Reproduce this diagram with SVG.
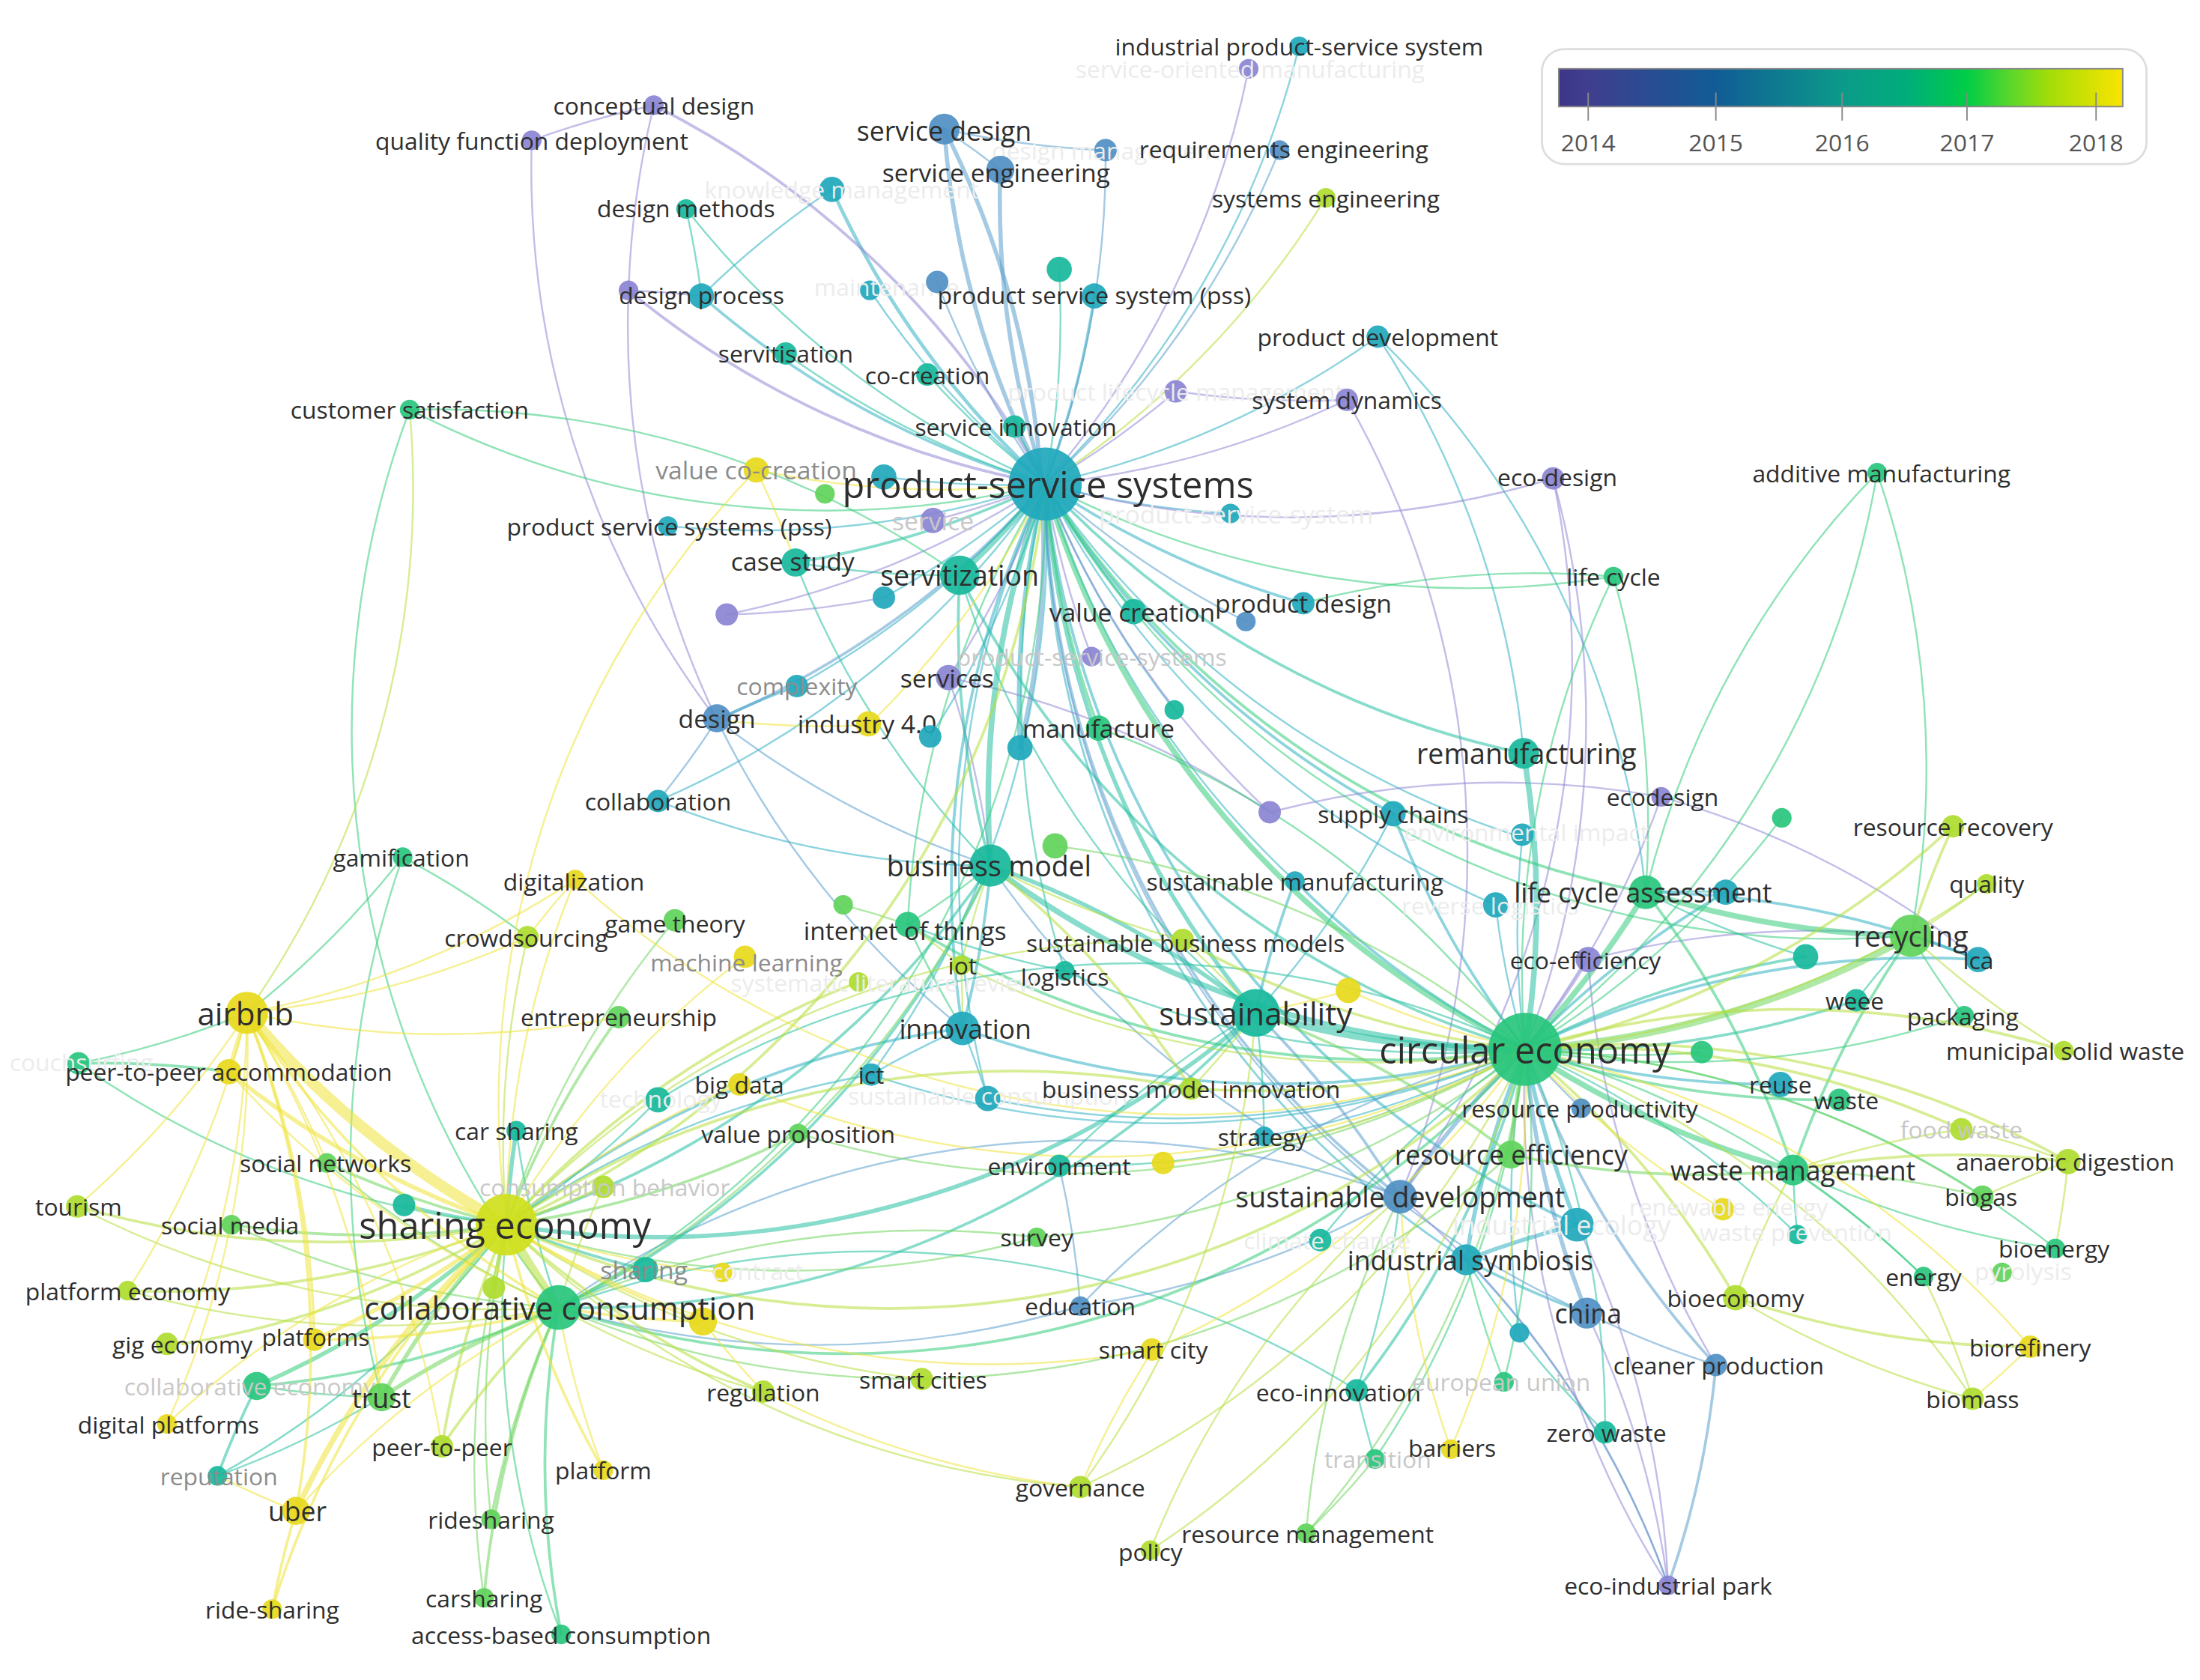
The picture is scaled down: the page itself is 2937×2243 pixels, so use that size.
<svg xmlns="http://www.w3.org/2000/svg" width="2937" height="2243" viewBox="0 0 2937 2243">
<style>
.E{fill:none;stroke-width:1.3;stroke-opacity:.55;stroke-linecap:round}
.E .pu{stroke:#8f89d6}.E .bl{stroke:#5b9fcc}.E .te{stroke:#2fb0c2}.E .tg{stroke:#25bfa0}.E .gr{stroke:#35cc7c}.E .lg{stroke:#6fd65c}.E .li{stroke:#b6df3c}.E .ye{stroke:#eee33a}
.N circle{fill-opacity:.92}
.N .pu{fill:#8a84d2}.N .bl{fill:#4f8fc3}.N .te{fill:#1fa8bc}.N .tg{fill:#17b99c}.N .gr{fill:#27c67c}.N .lg{fill:#5fd25a}.N .li{fill:#aedc2e}.N .ye{fill:#e7d91b}.N .ly{fill:#cfe01c}
text{font-family:"Open Sans","Noto Sans","Liberation Sans",sans-serif;font-size:17px;fill:#2e2e2e;text-anchor:middle;dominant-baseline:central}
.g{fill:#8c8c8c}.f{fill:#c8c8c8}.vf{fill:#ececec}
.s16{font-size:18px}.s17{font-size:19px}.s18{font-size:20px}.s20{font-size:22.5px}.s23{font-size:26px}
#legend text{fill:#555;font-size:17px}
</style>
<defs>
<linearGradient id="yr" x1="0" x2="1" y1="0" y2="0">
<stop offset="0" stop-color="#3d3589"/><stop offset="0.052" stop-color="#403e8e"/><stop offset="0.278" stop-color="#115c96"/><stop offset="0.502" stop-color="#0b9a8a"/><stop offset="0.62" stop-color="#00ae7a"/><stop offset="0.724" stop-color="#00cd46"/><stop offset="0.8" stop-color="#5ad62c"/><stop offset="0.87" stop-color="#a3dd08"/><stop offset="1" stop-color="#fbe400"/>
</linearGradient>
</defs>
<rect width="2937" height="2243" fill="#fff"/>
<g transform="scale(1.873)">
<g id="connectors" class="E">
<g class="te">
<path d="M745 345A650 650 0 0 0 926 33"/><path d="M745 345A650 650 0 0 1 593 135" stroke-width="2.5"/><path d="M745 345A650 650 0 0 1 500 211" stroke-width="2"/><path d="M745 345A650 650 0 0 1 620 207"/><path d="M745 345A650 650 0 0 0 780 211" stroke-width="2"/><path d="M745 345A650 650 0 0 0 982 240"/><path d="M745 345A650 650 0 0 1 630 340"/><path d="M745 345A650 650 0 0 1 476 375"/><path d="M745 345A650 650 0 0 0 877 366"/><path d="M745 345A650 650 0 0 1 630 426"/><path d="M745 345A650 650 0 0 0 929 430" stroke-width="2"/><path d="M745 345A650 650 0 0 1 568 489"/><path d="M745 345A650 650 0 0 1 663 525"/><path d="M745 345A650 650 0 0 0 727 533" stroke-width="3"/><path d="M745 345A650 650 0 0 0 837 506"/><path d="M745 345A650 650 0 0 1 469 571"/><path d="M745 345A650 650 0 0 0 993 580" stroke-width="2"/><path d="M745 345A650 650 0 0 0 686 733" stroke-width="2"/><path d="M745 345A650 650 0 0 0 923 628"/><path d="M745 345A650 650 0 0 0 1066 645"/><path d="M745 345A650 650 0 0 0 1085 597"/><path d="M745 345A650 650 0 0 0 1124 873" stroke-width="2"/><path d="M745 345A650 650 0 0 0 1045 898" stroke-width="1.5"/><path d="M745 345A650 650 0 0 1 621 766"/><path d="M745 345A650 650 0 0 0 704 783"/><path d="M593 135A650 650 0 0 0 500 211"/><path d="M982 240A650 650 0 0 1 1086 537"/><path d="M982 240A650 650 0 0 1 1173 636"/><path d="M469 571A650 650 0 0 0 706 617"/><path d="M1087 748A650 650 0 0 0 1269 773" stroke-width="2"/><path d="M1087 748A650 650 0 0 0 1045 898" stroke-width="3"/><path d="M1087 748A650 650 0 0 0 1124 873" stroke-width="3"/><path d="M1087 748A650 650 0 0 1 993 580" stroke-width="2"/><path d="M1087 748A650 650 0 0 1 923 628" stroke-width="2"/><path d="M1087 748A650 650 0 0 1 1410 684" stroke-width="2"/><path d="M1087 748A650 650 0 0 1 901 810"/><path d="M1087 748A650 650 0 0 1 686 733" stroke-width="2"/><path d="M1087 748A650 650 0 0 1 621 766"/><path d="M1087 748A650 650 0 0 1 1230 636" stroke-width="2"/><path d="M1087 748A650 650 0 0 1 1066 645"/><path d="M1087 748A650 650 0 0 1 1085 597"/><path d="M1087 748A650 650 0 0 1 704 783"/><path d="M1087 748A650 650 0 0 0 1083 950"/><path d="M361 873A650 650 0 0 1 686 733" stroke-width="2"/><path d="M361 873A650 650 0 0 1 621 766"/><path d="M1362 667A650 650 0 0 1 1410 684" stroke-width="2"/><path d="M1173 636A650 650 0 0 1 1410 684" stroke-width="2"/><path d="M1173 636A650 650 0 0 1 1230 636"/><path d="M1131 936A650 650 0 0 1 1045 898" stroke-width="2"/><path d="M1124 873A650 650 0 0 0 1045 898" stroke-width="3"/><path d="M511 513A650 650 0 0 1 568 489" stroke-width="2"/><path d="M686 733A650 650 0 0 0 621 766"/><path d="M686 733A650 650 0 0 1 704 783"/><path d="M706 617A650 650 0 0 1 686 733" stroke-width="2"/><path d="M895 722A650 650 0 0 1 923 628" stroke-width="2"/><path d="M895 722A650 650 0 0 0 993 580"/><path d="M1045 898A650 650 0 0 1 1189 1130"/>
</g>
<g class="bl">
<path d="M745 345A650 650 0 0 1 673 92" stroke-width="3"/><path d="M745 345A650 650 0 0 0 788 107"/><path d="M745 345A650 650 0 0 1 713 121" stroke-width="3"/><path d="M745 345A650 650 0 0 0 912 107"/><path d="M745 345A650 650 0 0 1 668 201"/><path d="M745 345A650 650 0 0 0 888 443"/><path d="M745 345A650 650 0 0 1 511 513" stroke-width="2"/><path d="M745 345A650 650 0 0 0 998 853" stroke-width="2"/><path d="M745 345A650 650 0 0 0 1131 936"/><path d="M673 92A650 650 0 0 0 788 107"/><path d="M673 92A650 650 0 0 1 727 533" stroke-width="3"/><path d="M713 121A650 650 0 0 0 673 92"/><path d="M1087 748A650 650 0 0 0 1127 790"/><path d="M1087 748A650 650 0 0 0 998 853" stroke-width="3"/><path d="M1087 748A650 650 0 0 0 1131 936" stroke-width="3"/><path d="M1087 748A650 650 0 0 0 1223 973" stroke-width="2"/><path d="M1087 748A650 650 0 0 0 770 931"/><path d="M1131 936A650 650 0 0 0 1223 973"/><path d="M1223 973A650 650 0 0 1 1189 1130" stroke-width="2"/><path d="M511 513A650 650 0 0 1 469 571"/><path d="M511 513A650 650 0 0 0 706 617"/><path d="M511 513A650 650 0 0 0 686 733"/><path d="M398 932A650 650 0 0 0 770 931"/><path d="M755 831A650 650 0 0 1 770 931"/><path d="M770 931A650 650 0 0 0 998 853"/><path d="M895 722A650 650 0 0 1 998 853" stroke-width="2"/><path d="M706 617A650 650 0 0 0 998 853"/><path d="M398 932A650 650 0 0 1 998 853"/>
</g>
<g class="pu">
<path d="M745 345A650 650 0 0 0 890 49"/><path d="M745 345A650 650 0 0 1 448 207" stroke-width="2"/><path d="M745 345A650 650 0 0 0 838 279"/><path d="M745 345A650 650 0 0 0 960 285"/><path d="M745 345A650 650 0 0 0 1107 341"/><path d="M745 345A650 650 0 0 1 665 371"/><path d="M745 345A650 650 0 0 1 518 438"/><path d="M745 345A650 650 0 0 0 778 468"/><path d="M745 345A650 650 0 0 1 676 483"/><path d="M745 345A650 650 0 0 0 905 579"/><path d="M379 100A650 650 0 0 1 466 75"/><path d="M379 100A650 650 0 0 0 511 513"/><path d="M466 75A650 650 0 0 1 745 345" stroke-width="2"/><path d="M466 75A650 650 0 0 0 448 207"/><path d="M448 207A650 650 0 0 1 500 211"/><path d="M448 207A650 650 0 0 0 511 513"/><path d="M960 285A650 650 0 0 1 838 279"/><path d="M960 285A650 650 0 0 1 998 853"/><path d="M1107 341A650 650 0 0 1 1087 748"/><path d="M1107 341A650 650 0 0 1 998 853"/><path d="M1184 568A650 650 0 0 0 905 579"/><path d="M1184 568A650 650 0 0 1 1087 748"/><path d="M905 579A650 650 0 0 0 676 483"/><path d="M676 483A650 650 0 0 1 706 617"/><path d="M518 438A650 650 0 0 0 630 426"/><path d="M1087 748A650 650 0 0 0 1132 684" stroke-width="2"/><path d="M1087 748A650 650 0 0 0 1189 1130"/><path d="M1131 936A650 650 0 0 1 1189 1130"/><path d="M1124 873A650 650 0 0 1 1189 1130"/><path d="M998 853A650 650 0 0 1 1189 1130"/><path d="M1132 684A650 650 0 0 1 1362 667"/><path d="M1184 568A650 650 0 0 1 1410 684"/><path d="M1132 684A650 650 0 0 0 1223 973"/>
</g>
<g class="tg">
<path d="M745 345A650 650 0 0 1 489 149"/><path d="M745 345A650 650 0 0 0 755 192"/><path d="M745 345A650 650 0 0 1 560 252"/><path d="M745 345A650 650 0 0 1 661 267"/><path d="M745 345A650 650 0 0 0 723 304"/><path d="M745 345A650 650 0 0 1 567 401" stroke-width="2"/><path d="M745 345A650 650 0 0 1 684 410" stroke-width="4"/><path d="M745 345A650 650 0 0 0 808 436" stroke-width="2"/><path d="M745 345A650 650 0 0 0 1086 537" stroke-width="2"/><path d="M745 345A650 650 0 0 0 706 617" stroke-width="4"/><path d="M745 345A650 650 0 0 0 895 722" stroke-width="3"/><path d="M745 345A650 650 0 0 0 759 692"/><path d="M489 149A650 650 0 0 1 500 211"/><path d="M684 410A650 650 0 0 0 706 617" stroke-width="2"/><path d="M684 410A650 650 0 0 1 567 401"/><path d="M684 410A650 650 0 0 0 1087 748" stroke-width="2"/><path d="M684 410A650 650 0 0 0 895 722"/><path d="M567 401A650 650 0 0 0 706 617"/><path d="M1087 748A650 650 0 0 0 1086 537" stroke-width="4"/><path d="M1087 748A650 650 0 0 0 1323 713" stroke-width="2"/><path d="M1087 748A650 650 0 0 1 1144 1021"/><path d="M1087 748A650 650 0 0 1 967 991" stroke-width="2"/><path d="M1087 748A650 650 0 0 1 895 722" stroke-width="5"/><path d="M1087 748A650 650 0 0 1 706 617" stroke-width="4"/><path d="M1087 748A650 650 0 0 1 1281 880"/><path d="M1087 748A650 650 0 0 0 941 884"/><path d="M1087 748A650 650 0 0 1 755 831"/><path d="M1087 748A650 650 0 0 1 1287 682" stroke-width="2"/><path d="M1087 748A650 650 0 0 1 759 692"/><path d="M1087 748A650 650 0 0 0 469 784"/><path d="M361 873A650 650 0 0 1 368 806" stroke-width="3"/><path d="M361 873A650 650 0 0 0 460 905" stroke-width="2"/><path d="M361 873A650 650 0 0 1 155 1052"/><path d="M361 873A650 650 0 0 0 706 617" stroke-width="2"/><path d="M361 873A650 650 0 0 0 895 722" stroke-width="3"/><path d="M361 873A650 650 0 0 0 469 784"/><path d="M361 873A650 650 0 0 1 288 859" stroke-width="2"/><path d="M398 932A650 650 0 0 1 460 905"/><path d="M398 932A650 650 0 0 0 706 617" stroke-width="2"/><path d="M398 932A650 650 0 0 0 895 722" stroke-width="2"/><path d="M398 932A650 650 0 0 1 967 991"/><path d="M398 932A650 650 0 0 1 368 806"/><path d="M155 1052A650 650 0 0 1 183 988" stroke-width="2"/><path d="M155 1052A650 650 0 0 0 272 996"/><path d="M706 617A650 650 0 0 1 895 722" stroke-width="3"/><path d="M895 722A650 650 0 0 0 755 831"/><path d="M895 722A650 650 0 0 1 901 810"/><path d="M998 853A650 650 0 0 1 967 991"/><path d="M1045 898A650 650 0 0 0 1144 1021"/><path d="M980 1040A650 650 0 0 1 967 991"/><path d="M647 659A650 650 0 0 0 759 692"/><path d="M1362 667A650 650 0 0 0 1323 713"/><path d="M1173 636A650 650 0 0 0 1287 682"/><path d="M1278 834A650 650 0 0 0 1281 880"/>
</g>
<g class="gr">
<path d="M745 345A650 650 0 0 1 292 292"/><path d="M745 345A650 650 0 0 0 1150 411"/><path d="M745 345A650 650 0 0 0 783 519" stroke-width="2"/><path d="M745 345A650 650 0 0 0 1087 748" stroke-width="4"/><path d="M745 345A650 650 0 0 0 1173 636" stroke-width="2"/><path d="M745 345A650 650 0 0 1 398 932"/><path d="M745 345A650 650 0 0 0 1362 667"/><path d="M745 345A650 650 0 0 0 647 659"/><path d="M292 292A650 650 0 0 1 684 410"/><path d="M292 292A650 650 0 0 0 398 932"/><path d="M1087 748A650 650 0 0 0 1173 636" stroke-width="4"/><path d="M1087 748A650 650 0 0 0 1400 724"/><path d="M1087 748A650 650 0 0 0 1311 784" stroke-width="2"/><path d="M1087 748A650 650 0 0 0 1278 834" stroke-width="4"/><path d="M1087 748A650 650 0 0 1 1072 985"/><path d="M1087 748A650 650 0 0 1 980 1040"/><path d="M1087 748A650 650 0 0 1 1150 411"/><path d="M1087 748A650 650 0 0 0 1338 337"/><path d="M1087 748A650 650 0 0 1 1465 890"/><path d="M1087 748A650 650 0 0 1 1371 910"/><path d="M1087 748A650 650 0 0 1 647 659" stroke-width="2"/><path d="M1087 748A650 650 0 0 1 398 932" stroke-width="2"/><path d="M1087 748A650 650 0 0 0 1213 750"/><path d="M1087 748A650 650 0 0 0 1270 583"/><path d="M1338 337A650 650 0 0 0 1173 636"/><path d="M1338 337A650 650 0 0 1 1362 667"/><path d="M1150 411A650 650 0 0 0 929 430"/><path d="M1150 411A650 650 0 0 1 1173 636"/><path d="M1362 667A650 650 0 0 1 1173 636" stroke-width="4"/><path d="M1362 667A650 650 0 0 0 1278 834" stroke-width="2"/><path d="M1362 667A650 650 0 0 0 1400 724"/><path d="M1173 636A650 650 0 0 1 1278 834" stroke-width="2"/><path d="M1278 834A650 650 0 0 0 1465 890"/><path d="M1278 834A650 650 0 0 1 1371 910"/><path d="M1045 898A650 650 0 0 0 1072 985"/><path d="M361 873A650 650 0 0 1 56 758"/><path d="M361 873A650 650 0 0 1 183 988" stroke-width="3"/><path d="M361 873A650 650 0 0 0 400 1165"/><path d="M398 932A650 650 0 0 1 183 988" stroke-width="2"/><path d="M398 932A650 650 0 0 0 400 1165" stroke-width="2"/><path d="M56 758A650 650 0 0 1 163 764" stroke-width="2"/><path d="M56 758A650 650 0 0 0 176 722"/><path d="M183 988A650 650 0 0 0 272 996"/><path d="M287 611A650 650 0 0 0 272 996"/><path d="M287 611A650 650 0 0 1 376 668"/><path d="M176 722A650 650 0 0 0 287 611"/><path d="M706 617A650 650 0 0 1 647 659"/><path d="M686 733A650 650 0 0 1 647 659"/><path d="M783 519A650 650 0 0 1 1087 748"/>
</g>
<g class="lg">
<path d="M1087 748A650 650 0 0 0 1362 667" stroke-width="5"/><path d="M1087 748A650 650 0 0 0 1077 823" stroke-width="3"/><path d="M1087 748A650 650 0 0 1 1413 853"/><path d="M1087 748A650 650 0 0 1 931 1093"/><path d="M1087 748A650 650 0 0 1 739 882"/><path d="M1087 748A650 650 0 0 1 569 808"/><path d="M361 873A650 650 0 0 1 233 829" stroke-width="2"/><path d="M361 873A650 650 0 0 1 165 873" stroke-width="2"/><path d="M361 873A650 650 0 0 0 272 996" stroke-width="3"/><path d="M361 873A650 650 0 0 0 350 1083"/><path d="M361 873A650 650 0 0 0 345 1139"/><path d="M361 873A650 650 0 0 1 441 725" stroke-width="2"/><path d="M361 873A650 650 0 0 1 481 656"/><path d="M361 873A650 650 0 0 0 569 808" stroke-width="2"/><path d="M361 873A650 650 0 0 0 739 882"/><path d="M398 932A650 650 0 0 1 233 829"/><path d="M398 932A650 650 0 0 1 165 873"/><path d="M398 932A650 650 0 0 0 272 996" stroke-width="3"/><path d="M398 932A650 650 0 0 0 350 1083" stroke-width="2"/><path d="M398 932A650 650 0 0 0 345 1139" stroke-width="2"/><path d="M398 932A650 650 0 0 1 739 882"/><path d="M398 932A650 650 0 0 0 569 808"/><path d="M398 932A650 650 0 0 0 1077 823"/><path d="M1278 834A650 650 0 0 1 1413 853"/><path d="M998 853A650 650 0 0 0 931 1093"/><path d="M980 1040A650 650 0 0 1 931 1093"/><path d="M895 722A650 650 0 0 1 1077 823" stroke-width="2"/><path d="M706 617A650 650 0 0 1 569 808"/><path d="M647 659A650 650 0 0 0 601 645"/><path d="M1077 823A650 650 0 0 0 1278 834" stroke-width="2"/><path d="M1087 748A650 650 0 0 0 752 603"/>
</g>
<g class="li">
<path d="M745 345A650 650 0 0 0 945 141"/><path d="M745 345A650 650 0 0 1 361 873" stroke-width="2"/><path d="M1087 748A650 650 0 0 1 1237 925" stroke-width="2"/><path d="M1087 748A650 650 0 0 1 820 1105"/><path d="M1087 748A650 650 0 0 1 849 776" stroke-width="2"/><path d="M1087 748A650 650 0 0 0 1392 589" stroke-width="2"/><path d="M1087 748A650 650 0 0 0 1416 630"/><path d="M1087 748A650 650 0 0 1 1471 749" stroke-width="2"/><path d="M1087 748A650 650 0 0 1 1398 805" stroke-width="2"/><path d="M1087 748A650 650 0 0 1 1474 828" stroke-width="2"/><path d="M1087 748A650 650 0 0 1 1406 997"/><path d="M1087 748A650 650 0 0 1 770 1060"/><path d="M1087 748A650 650 0 0 1 685 688"/><path d="M1087 748A650 650 0 0 1 361 873" stroke-width="2"/><path d="M1087 748A650 650 0 0 1 843 670" stroke-width="2"/><path d="M361 873A650 650 0 0 1 55 860" stroke-width="2"/><path d="M361 873A650 650 0 0 1 91 920" stroke-width="2"/><path d="M361 873A650 650 0 0 1 130 958" stroke-width="2"/><path d="M361 873A650 650 0 0 0 315 1031" stroke-width="2"/><path d="M361 873A650 650 0 0 0 430 846" stroke-width="2"/><path d="M361 873A650 650 0 0 0 398 932" stroke-width="6"/><path d="M361 873A650 650 0 0 0 544 992" stroke-width="2"/><path d="M361 873A650 650 0 0 0 657 983"/><path d="M361 873A650 650 0 0 1 376 668"/><path d="M361 873A650 650 0 0 0 352 918" stroke-width="3"/><path d="M361 873A650 650 0 0 0 770 1060"/><path d="M361 873A650 650 0 0 1 612 700" stroke-width="2"/><path d="M361 873A650 650 0 0 1 849 776" stroke-width="2"/><path d="M361 873A650 650 0 0 1 843 670"/><path d="M398 932A650 650 0 0 1 55 860"/><path d="M398 932A650 650 0 0 1 91 920"/><path d="M398 932A650 650 0 0 0 315 1031" stroke-width="2"/><path d="M398 932A650 650 0 0 0 544 992"/><path d="M398 932A650 650 0 0 1 430 846"/><path d="M1392 589A650 650 0 0 0 1362 667" stroke-width="2"/><path d="M1416 630A650 650 0 0 1 1362 667"/><path d="M1362 667A650 650 0 0 0 1471 749"/><path d="M1278 834A650 650 0 0 1 1474 828" stroke-width="2"/><path d="M1278 834A650 650 0 0 1 1398 805"/><path d="M1278 834A650 650 0 0 0 1237 925"/><path d="M1474 828A650 650 0 0 0 1413 853"/><path d="M1474 828A650 650 0 0 1 1465 890"/><path d="M1474 828A650 650 0 0 0 1398 805"/><path d="M1237 925A650 650 0 0 0 1447 960" stroke-width="2"/><path d="M1237 925A650 650 0 0 0 1406 997"/><path d="M1371 910A650 650 0 0 1 1406 997"/><path d="M820 1105A650 650 0 0 1 998 853"/><path d="M770 1060A650 650 0 0 0 895 722"/><path d="M706 617A650 650 0 0 0 843 670"/><path d="M706 617A650 650 0 0 1 849 776" stroke-width="2"/><path d="M706 617A650 650 0 0 0 685 688"/><path d="M895 722A650 650 0 0 1 849 776"/><path d="M895 722A650 650 0 0 0 843 670"/><path d="M686 733A650 650 0 0 0 685 688"/><path d="M647 659A650 650 0 0 1 685 688"/><path d="M176 722A650 650 0 0 0 292 292"/>
</g>
<g class="ye">
<path d="M745 345A650 650 0 0 1 539 335"/><path d="M745 345A650 650 0 0 1 619 517"/><path d="M539 335A650 650 0 0 0 361 873"/><path d="M539 335A650 650 0 0 1 567 401"/><path d="M1087 748A650 650 0 0 1 1034 1033"/><path d="M1087 748A650 650 0 0 1 1447 960"/><path d="M1087 748A650 650 0 0 0 1228 862"/><path d="M1087 748A650 650 0 0 1 822 962"/><path d="M1087 748A650 650 0 0 1 527 773"/><path d="M1087 748A650 650 0 0 1 961 706"/><path d="M1087 748A650 650 0 0 1 829 829"/><path d="M1087 748A650 650 0 0 1 410 627"/><path d="M361 873A650 650 0 0 1 176 722" stroke-width="8"/><path d="M361 873A650 650 0 0 1 163 764" stroke-width="3"/><path d="M361 873A650 650 0 0 1 224 955" stroke-width="3"/><path d="M361 873A650 650 0 0 0 119 1015"/><path d="M361 873A650 650 0 0 0 430 1048" stroke-width="2"/><path d="M361 873A650 650 0 0 0 211 1077" stroke-width="4"/><path d="M361 873A650 650 0 0 0 194 1147" stroke-width="2"/><path d="M361 873A650 650 0 0 1 410 627"/><path d="M361 873A650 650 0 0 1 527 773"/><path d="M361 873A650 650 0 0 0 501 942" stroke-width="2"/><path d="M361 873A650 650 0 0 0 515 907"/><path d="M361 873A650 650 0 0 0 822 962"/><path d="M361 873A650 650 0 0 1 531 682"/><path d="M398 932A650 650 0 0 1 176 722" stroke-width="2"/><path d="M398 932A650 650 0 0 1 163 764"/><path d="M398 932A650 650 0 0 1 224 955" stroke-width="2"/><path d="M398 932A650 650 0 0 0 430 1048"/><path d="M398 932A650 650 0 0 0 211 1077"/><path d="M398 932A650 650 0 0 0 501 942" stroke-width="2"/><path d="M176 722A650 650 0 0 0 163 764" stroke-width="3"/><path d="M176 722A650 650 0 0 1 55 860"/><path d="M176 722A650 650 0 0 1 233 829"/><path d="M176 722A650 650 0 0 1 91 920"/><path d="M176 722A650 650 0 0 1 224 955" stroke-width="2"/><path d="M176 722A650 650 0 0 1 211 1077" stroke-width="2"/><path d="M176 722A650 650 0 0 1 119 1015"/><path d="M176 722A650 650 0 0 1 130 958"/><path d="M176 722A650 650 0 0 1 272 996"/><path d="M176 722A650 650 0 0 1 315 1031"/><path d="M176 722A650 650 0 0 0 376 668"/><path d="M176 722A650 650 0 0 0 441 725"/><path d="M176 722A650 650 0 0 0 410 627"/><path d="M211 1077A650 650 0 0 0 194 1147" stroke-width="2"/><path d="M211 1077A650 650 0 0 1 155 1052"/><path d="M376 668A650 650 0 0 1 410 627"/><path d="M544 992A650 650 0 0 1 501 942"/><path d="M770 1060A650 650 0 0 1 822 962"/><path d="M770 1060A650 650 0 0 1 544 992"/><path d="M1447 960A650 650 0 0 1 1406 997"/><path d="M511 513A650 650 0 0 0 619 517"/><path d="M895 722A650 650 0 0 0 961 706"/><path d="M998 853A650 650 0 0 0 1034 1033"/>
</g>
</g>
<g id="nodes" class="N">
<g id="n-ipss"><circle class="te" cx="926" cy="33" r="7"/><text x="926" y="33">industrial product-service system</text></g>
<g id="n-som"><circle class="pu" cx="890" cy="49" r="7"/><text x="891" y="49" class="vf">service-oriented manufacturing</text></g>
<g id="n-conceptual-design"><circle class="pu" cx="466" cy="75" r="7"/><text x="466" y="75">conceptual design</text></g>
<g id="n-qfd"><circle class="pu" cx="379" cy="100" r="7"/><text x="379" y="100">quality function deployment</text></g>
<g id="n-design-management"><circle class="bl" cx="788" cy="107" r="8"/><text x="788" y="107" class="vf">design management</text></g>
<g id="n-service-design"><circle class="bl" cx="673" cy="92" r="11"/><text x="673" y="93" class="s17">service design</text></g>
<g id="n-service-engineering"><circle class="bl" cx="713" cy="121" r="10"/><text x="710" y="123" class="s16">service engineering</text></g>
<g id="n-requirements-engineering"><circle class="bl" cx="912" cy="107" r="7"/><text x="915" y="106">requirements engineering</text></g>
<g id="n-systems-engineering"><circle class="li" cx="945" cy="141" r="7"/><text x="945" y="141">systems engineering</text></g>
<g id="n-knowledge-management"><circle class="te" cx="593" cy="135" r="9"/><text x="600" y="135" class="vf">knowledge management</text></g>
<g id="n-design-methods"><circle class="tg" cx="489" cy="149" r="7"/><text x="489" y="148">design methods</text></g>
<g id="n-p1"><circle class="pu" cx="448" cy="207" r="7"/></g>
<g id="n-maintenance"><circle class="te" cx="620" cy="207" r="7"/><text x="632" y="204" class="vf">maintenance</text></g>
<g id="n-g1"><circle class="tg" cx="755" cy="192" r="9"/></g>
<g id="n-b1"><circle class="bl" cx="668" cy="201" r="8"/></g>
<g id="n-design-process"><circle class="te" cx="500" cy="211" r="9"/><text x="500" y="210">design process</text></g>
<g id="n-pss-system"><circle class="te" cx="780" cy="211" r="9"/><text x="780" y="210">product service system (pss)</text></g>
<g id="n-servitisation"><circle class="tg" cx="560" cy="252" r="8"/><text x="560" y="252">servitisation</text></g>
<g id="n-co-creation"><circle class="tg" cx="661" cy="267" r="8"/><text x="661" y="267">co-creation</text></g>
<g id="n-product-development"><circle class="te" cx="982" cy="240" r="8"/><text x="982" y="240">product development</text></g>
<g id="n-plm"><circle class="pu" cx="838" cy="279" r="8"/><text x="838" y="279" class="vf">product lifecycle management</text></g>
<g id="n-system-dynamics"><circle class="pu" cx="960" cy="285" r="8"/><text x="960" y="285">system dynamics</text></g>
<g id="n-customer-satisfaction"><circle class="gr" cx="292" cy="292" r="7"/><text x="292" y="292">customer satisfaction</text></g>
<g id="n-service-innovation"><circle class="tg" cx="723" cy="304" r="8"/><text x="724" y="304">service innovation</text></g>
<g id="n-value-co-creation"><circle class="ye" cx="539" cy="335" r="9"/><text x="539" y="335" class="g s16">value co-creation</text></g>
<g id="n-g2"><circle class="lg" cx="588" cy="352" r="7"/></g>
<g id="n-t1"><circle class="te" cx="630" cy="340" r="9"/></g>
<g id="n-eco-design"><circle class="pu" cx="1107" cy="341" r="8"/><text x="1110" y="340">eco-design</text></g>
<g id="n-additive-manufacturing"><circle class="gr" cx="1338" cy="337" r="7"/><text x="1341" y="337">additive manufacturing</text></g>
<g id="n-service"><circle class="pu" cx="665" cy="371" r="9"/><text x="665" y="371" class="f s16">service</text></g>
<g id="n-pss-dash"><circle class="te" cx="877" cy="366" r="7"/><text x="881" y="366" class="vf s16">product-service-system</text></g>
<g id="n-pss-systems-pss"><circle class="te" cx="476" cy="375" r="7"/><text x="477" y="375">product service systems (pss)</text></g>
<g id="n-product-service-systems"><circle class="te" cx="745" cy="345" r="26"/><text x="747" y="345" class="s23">product-service systems</text></g>
<g id="n-case-study"><circle class="tg" cx="567" cy="401" r="10"/><text x="565" y="400" class="s16">case study</text></g>
<g id="n-servitization"><circle class="tg" cx="684" cy="410" r="14"/><text x="684" y="410" class="s18">servitization</text></g>
<g id="n-life-cycle"><circle class="gr" cx="1150" cy="411" r="7"/><text x="1150" y="411">life cycle</text></g>
<g id="n-p2"><circle class="pu" cx="518" cy="438" r="8"/></g>
<g id="n-t2"><circle class="te" cx="630" cy="426" r="8"/></g>
<g id="n-b2"><circle class="bl" cx="888" cy="443" r="7"/></g>
<g id="n-value-creation"><circle class="tg" cx="808" cy="436" r="9"/><text x="807" y="436" class="s16">value creation</text></g>
<g id="n-product-design"><circle class="te" cx="929" cy="430" r="8"/><text x="929" y="430" class="s16">product design</text></g>
<g id="n-pss-systems-dash"><circle class="pu" cx="778" cy="468" r="7"/><text x="778" y="468" class="f">product-service-systems</text></g>
<g id="n-complexity"><circle class="te" cx="568" cy="489" r="8"/><text x="568" y="489" class="g">complexity</text></g>
<g id="n-services"><circle class="pu" cx="676" cy="483" r="9"/><text x="675" y="483" class="s16">services</text></g>
<g id="n-design"><circle class="bl" cx="511" cy="512" r="10"/><text x="511" y="512" class="s16">design</text></g>
<g id="n-industry-4"><circle class="ye" cx="619" cy="516" r="9"/><text x="618" y="516" class="s16">industry 4.0</text></g>
<g id="n-t3"><circle class="te" cx="663" cy="525" r="8"/></g>
<g id="n-t4"><circle class="te" cx="727" cy="533" r="9"/></g>
<g id="n-t5"><circle class="tg" cx="837" cy="506" r="7"/></g>
<g id="n-manufacture"><circle class="gr" cx="783" cy="519" r="9"/><text x="783" y="519" class="s16">manufacture</text></g>
<g id="n-remanufacturing"><circle class="tg" cx="1086" cy="537" r="11"/><text x="1088" y="537" class="s18">remanufacturing</text></g>
<g id="n-collaboration"><circle class="te" cx="469" cy="571" r="8"/><text x="469" y="571">collaboration</text></g>
<g id="n-p3"><circle class="pu" cx="905" cy="579" r="8"/></g>
<g id="n-supply-chains"><circle class="te" cx="993" cy="580" r="9"/><text x="993" y="580">supply chains</text></g>
<g id="n-ecodesign"><circle class="pu" cx="1184" cy="568" r="7"/><text x="1185" y="568">ecodesign</text></g>
<g id="n-environmental-impact"><circle class="te" cx="1085" cy="595" r="8"/><text x="1088" y="593" class="vf">environmental impact</text></g>
<g id="n-g3"><circle class="gr" cx="1270" cy="583" r="7"/></g>
<g id="n-resource-recovery"><circle class="li" cx="1392" cy="589" r="8"/><text x="1392" y="589">resource recovery</text></g>
<g id="n-gamification"><circle class="gr" cx="287" cy="611" r="7"/><text x="286" y="611">gamification</text></g>
<g id="n-digitalization"><circle class="ye" cx="410" cy="627" r="7"/><text x="409" y="628">digitalization</text></g>
<g id="n-g4"><circle class="lg" cx="752" cy="603" r="9"/></g>
<g id="n-business-model"><circle class="tg" cx="706" cy="617" r="15"/><text x="705" y="617" class="s18">business model</text></g>
<g id="n-sustainable-manufacturing"><circle class="te" cx="923" cy="628" r="7"/><text x="923" y="628">sustainable manufacturing</text></g>
<g id="n-reverse-logistics"><circle class="te" cx="1066" cy="645" r="9"/><text x="1062" y="645" class="vf">reverse logistics</text></g>
<g id="n-t6"><circle class="te" cx="1230" cy="636" r="9"/></g>
<g id="n-lca-assessment"><circle class="gr" cx="1173" cy="636" r="12"/><text x="1171" y="636" class="s17">life cycle assessment</text></g>
<g id="n-quality"><circle class="li" cx="1416" cy="630" r="7"/><text x="1416" y="630">quality</text></g>
<g id="n-crowdsourcing"><circle class="li" cx="376" cy="668" r="8"/><text x="375" y="668">crowdsourcing</text></g>
<g id="n-game-theory"><circle class="lg" cx="481" cy="656" r="8"/><text x="481" y="658">game theory</text></g>
<g id="n-g5"><circle class="lg" cx="601" cy="645" r="7"/></g>
<g id="n-internet-of-things"><circle class="gr" cx="647" cy="659" r="9"/><text x="645" y="663" class="s16">internet of things</text></g>
<g id="n-sustainable-business-models"><circle class="li" cx="843" cy="670" r="8"/><text x="845" y="672">sustainable business models</text></g>
<g id="n-t7"><circle class="tg" cx="1287" cy="682" r="9"/></g>
<g id="n-recycling"><circle class="lg" cx="1362" cy="667" r="15"/><text x="1362" y="667" class="s18">recycling</text></g>
<g id="n-lca"><circle class="te" cx="1410" cy="684" r="9"/><text x="1410" y="684">lca</text></g>
<g id="n-machine-learning"><circle class="ye" cx="531" cy="682" r="8"/><text x="532" y="686" class="g">machine learning</text></g>
<g id="n-iot"><circle class="li" cx="685" cy="688" r="7"/><text x="686" y="688">iot</text></g>
<g id="n-logistics"><circle class="tg" cx="759" cy="692" r="7"/><text x="759" y="696">logistics</text></g>
<g id="n-slr"><circle class="li" cx="612" cy="700" r="7"/><text x="630" y="700" class="vf">systematic literature review</text></g>
<g id="n-eco-efficiency"><circle class="pu" cx="1132" cy="684" r="9"/><text x="1130" y="684">eco-efficiency</text></g>
<g id="n-y1"><circle class="ye" cx="961" cy="706" r="9"/></g>
<g id="n-couchsurfing"><circle class="gr" cx="56" cy="758" r="8"/><text x="58" y="757" class="vf">couchsurfing</text></g>
<g id="n-airbnb"><circle class="ye" cx="176" cy="722" r="15"/><text x="175" y="722" class="s20">airbnb</text></g>
<g id="n-entrepreneurship"><circle class="lg" cx="441" cy="725" r="8"/><text x="441" y="725">entrepreneurship</text></g>
<g id="n-innovation"><circle class="te" cx="686" cy="733" r="12"/><text x="688" y="733" class="s17">innovation</text></g>
<g id="n-sustainability"><circle class="tg" cx="895" cy="722" r="17"/><text x="895" y="722" class="s20">sustainability</text></g>
<g id="n-weee"><circle class="tg" cx="1323" cy="713" r="8"/><text x="1322" y="713">weee</text></g>
<g id="n-packaging"><circle class="gr" cx="1400" cy="724" r="7"/><text x="1399" y="724">packaging</text></g>
<g id="n-g6"><circle class="gr" cx="1213" cy="750" r="8"/></g>
<g id="n-circular-economy"><circle class="gr" cx="1087" cy="748" r="26"/><text x="1087" y="748" class="s23">circular economy</text></g>
<g id="n-msw"><circle class="li" cx="1471" cy="749" r="7"/><text x="1472" y="749">municipal solid waste</text></g>
<g id="n-p2p-accommodation"><circle class="ye" cx="163" cy="764" r="9"/><text x="163" y="764">peer-to-peer accommodation</text></g>
<g id="n-technology"><circle class="tg" cx="469" cy="784" r="9"/><text x="471" y="783" class="vf">technology</text></g>
<g id="n-big-data"><circle class="ye" cx="527" cy="773" r="8"/><text x="527" y="773">big data</text></g>
<g id="n-ict"><circle class="te" cx="621" cy="766" r="8"/><text x="621" y="766">ict</text></g>
<g id="n-sustainable-consumption"><circle class="te" cx="704" cy="783" r="9"/><text x="704" y="781" class="vf">sustainable consumption</text></g>
<g id="n-bmi"><circle class="li" cx="849" cy="776" r="8"/><text x="849" y="776">business model innovation</text></g>
<g id="n-reuse"><circle class="te" cx="1269" cy="773" r="9"/><text x="1269" y="773">reuse</text></g>
<g id="n-waste"><circle class="gr" cx="1311" cy="784" r="8"/><text x="1316" y="784">waste</text></g>
<g id="n-resource-productivity"><circle class="bl" cx="1127" cy="790" r="7"/><text x="1126" y="790">resource productivity</text></g>
<g id="n-car-sharing"><circle class="tg" cx="368" cy="806" r="7"/><text x="368" y="806">car sharing</text></g>
<g id="n-value-proposition"><circle class="lg" cx="569" cy="808" r="7"/><text x="569" y="808">value proposition</text></g>
<g id="n-strategy"><circle class="te" cx="901" cy="810" r="7"/><text x="900" y="810">strategy</text></g>
<g id="n-food-waste"><circle class="li" cx="1398" cy="805" r="8"/><text x="1398" y="805" class="f">food waste</text></g>
<g id="n-environment"><circle class="tg" cx="755" cy="831" r="8"/><text x="755" y="831">environment</text></g>
<g id="n-y2"><circle class="ye" cx="829" cy="829" r="8"/></g>
<g id="n-social-networks"><circle class="lg" cx="233" cy="829" r="7"/><text x="232" y="829">social networks</text></g>
<g id="n-resource-efficiency"><circle class="lg" cx="1077" cy="823" r="10"/><text x="1077" y="823" class="s17">resource efficiency</text></g>
<g id="n-waste-management"><circle class="gr" cx="1278" cy="834" r="11"/><text x="1278" y="834" class="s17">waste management</text></g>
<g id="n-anaerobic-digestion"><circle class="li" cx="1474" cy="828" r="9"/><text x="1472" y="828">anaerobic digestion</text></g>
<g id="n-consumption-behavior"><circle class="li" cx="430" cy="846" r="8"/><text x="431" y="846" class="f">consumption behavior</text></g>
<g id="n-t8"><circle class="tg" cx="288" cy="859" r="8"/></g>
<g id="n-tourism"><circle class="li" cx="55" cy="860" r="8"/><text x="56" y="860">tourism</text></g>
<g id="n-social-media"><circle class="lg" cx="165" cy="873" r="7"/><text x="164" y="873">social media</text></g>
<g id="n-biogas"><circle class="lg" cx="1413" cy="853" r="8"/><text x="1412" y="853">biogas</text></g>
<g id="n-renewable-energy"><circle class="ye" cx="1228" cy="862" r="8"/><text x="1232" y="860" class="vf">renewable energy</text></g>
<g id="n-industrial-ecology"><circle class="te" cx="1124" cy="873" r="12"/><text x="1113" y="873" class="vf s17">industrial ecology</text></g>
<g id="n-waste-prevention"><circle class="tg" cx="1281" cy="880" r="7"/><text x="1280" y="878" class="vf">waste prevention</text></g>
<g id="n-climate-change"><circle class="tg" cx="941" cy="884" r="8"/><text x="946" y="884" class="vf">climate change</text></g>
<g id="n-sustainable-development"><circle class="bl" cx="998" cy="853" r="12"/><text x="998" y="853" class="s18">sustainable development</text></g>
<g id="n-survey"><circle class="lg" cx="739" cy="882" r="7"/><text x="739" y="882">survey</text></g>
<g id="n-industrial-symbiosis"><circle class="te" cx="1045" cy="898" r="11"/><text x="1048" y="898" class="s17">industrial symbiosis</text></g>
<g id="n-bioenergy"><circle class="gr" cx="1465" cy="890" r="7"/><text x="1464" y="890">bioenergy</text></g>
<g id="n-pyrolysis"><circle class="lg" cx="1427" cy="907" r="7"/><text x="1442" y="906" class="vf">pyrolysis</text></g>
<g id="n-energy"><circle class="gr" cx="1371" cy="910" r="7"/><text x="1371" y="910">energy</text></g>
<g id="n-sharing"><circle class="tg" cx="460" cy="905" r="9"/><text x="459" y="905" class="g s16">sharing</text></g>
<g id="n-contract"><circle class="ye" cx="515" cy="907" r="7"/><text x="540" y="906" class="vf">contract</text></g>
<g id="n-y3"><circle class="li" cx="352" cy="918" r="8"/></g>
<g id="n-sharing-economy"><circle class="ly" cx="361" cy="873" r="22"/><text x="360" y="873" class="s23">sharing economy</text></g>
<g id="n-platform-economy"><circle class="li" cx="91" cy="920" r="7"/><text x="91" y="920">platform economy</text></g>
<g id="n-y4"><circle class="ye" cx="501" cy="942" r="10"/></g>
<g id="n-collaborative-consumption"><circle class="gr" cx="398" cy="932" r="16"/><text x="399" y="932" class="s20">collaborative consumption</text></g>
<g id="n-bioeconomy"><circle class="li" cx="1237" cy="925" r="9"/><text x="1237" y="925">bioeconomy</text></g>
<g id="n-education"><circle class="bl" cx="770" cy="931" r="7"/><text x="770" y="931">education</text></g>
<g id="n-t9"><circle class="te" cx="1083" cy="950" r="7"/></g>
<g id="n-china"><circle class="bl" cx="1131" cy="936" r="11"/><text x="1132" y="936" class="s17">china</text></g>
<g id="n-gig-economy"><circle class="li" cx="119" cy="958" r="8"/><text x="130" y="958">gig economy</text></g>
<g id="n-platforms"><circle class="ye" cx="224" cy="955" r="8"/><text x="225" y="953">platforms</text></g>
<g id="n-smart-city"><circle class="ye" cx="821" cy="962" r="8"/><text x="822" y="962">smart city</text></g>
<g id="n-biorefinery"><circle class="ye" cx="1447" cy="960" r="8"/><text x="1447" y="960">biorefinery</text></g>
<g id="n-collaborative-economy"><circle class="gr" cx="183" cy="988" r="10"/><text x="178" y="988" class="f">collaborative economy</text></g>
<g id="n-trust"><circle class="lg" cx="272" cy="996" r="10"/><text x="272" y="996" class="s17">trust</text></g>
<g id="n-smart-cities"><circle class="li" cx="657" cy="983" r="8"/><text x="658" y="983">smart cities</text></g>
<g id="n-regulation"><circle class="li" cx="544" cy="992" r="8"/><text x="544" y="992">regulation</text></g>
<g id="n-eco-innovation"><circle class="tg" cx="967" cy="991" r="8"/><text x="954" y="992">eco-innovation</text></g>
<g id="n-european-union"><circle class="gr" cx="1072" cy="985" r="7"/><text x="1070" y="985" class="f">european union</text></g>
<g id="n-cleaner-production"><circle class="bl" cx="1223" cy="973" r="8"/><text x="1225" y="973">cleaner production</text></g>
<g id="n-biomass"><circle class="li" cx="1406" cy="997" r="8"/><text x="1406" y="997">biomass</text></g>
<g id="n-digital-platforms"><circle class="ye" cx="119" cy="1015" r="7"/><text x="120" y="1015">digital platforms</text></g>
<g id="n-zero-waste"><circle class="tg" cx="1144" cy="1021" r="8"/><text x="1145" y="1021">zero waste</text></g>
<g id="n-peer-to-peer"><circle class="li" cx="315" cy="1031" r="8"/><text x="315" y="1031">peer-to-peer</text></g>
<g id="n-transition"><circle class="gr" cx="980" cy="1040" r="7"/><text x="982" y="1040" class="f">transition</text></g>
<g id="n-barriers"><circle class="ye" cx="1034" cy="1033" r="7"/><text x="1035" y="1032">barriers</text></g>
<g id="n-platform"><circle class="ye" cx="430" cy="1048" r="7"/><text x="430" y="1048">platform</text></g>
<g id="n-reputation"><circle class="tg" cx="155" cy="1052" r="7"/><text x="156" y="1052" class="g">reputation</text></g>
<g id="n-governance"><circle class="li" cx="770" cy="1060" r="8"/><text x="770" y="1060">governance</text></g>
<g id="n-uber"><circle class="ye" cx="211" cy="1077" r="10"/><text x="212" y="1077" class="s17">uber</text></g>
<g id="n-ridesharing"><circle class="lg" cx="350" cy="1083" r="7"/><text x="350" y="1083">ridesharing</text></g>
<g id="n-resource-management"><circle class="lg" cx="931" cy="1093" r="7"/><text x="932" y="1093">resource management</text></g>
<g id="n-policy"><circle class="li" cx="820" cy="1105" r="7"/><text x="820" y="1106">policy</text></g>
<g id="n-eco-industrial-park"><circle class="pu" cx="1189" cy="1130" r="7"/><text x="1189" y="1130">eco-industrial park</text></g>
<g id="n-carsharing"><circle class="lg" cx="345" cy="1139" r="7"/><text x="345" y="1139">carsharing</text></g>
<g id="n-ride-sharing"><circle class="ye" cx="194" cy="1147" r="7"/><text x="194" y="1147">ride-sharing</text></g>
<g id="n-access-based-consumption"><circle class="gr" cx="400" cy="1165" r="7"/><text x="400" y="1165">access-based consumption</text></g>
</g>
<g id="legend">
<rect x="1099" y="35" width="431" height="82" rx="16" fill="#fff" stroke="#ddd" stroke-width="1.5"/>
<rect x="1111" y="49" width="402" height="27" fill="url(#yr)" stroke="#888" stroke-width="1"/>
<g stroke="#888" stroke-width="1"><line x1="1132" y1="66" x2="1132" y2="86"/><line x1="1223" y1="66" x2="1223" y2="86"/><line x1="1313" y1="66" x2="1313" y2="86"/><line x1="1402" y1="66" x2="1402" y2="86"/><line x1="1494" y1="66" x2="1494" y2="86"/></g>
<text x="1132" y="101">2014</text><text x="1223" y="101">2015</text><text x="1313" y="101">2016</text><text x="1402" y="101">2017</text><text x="1494" y="101">2018</text>
</g>
</g>
</svg>
